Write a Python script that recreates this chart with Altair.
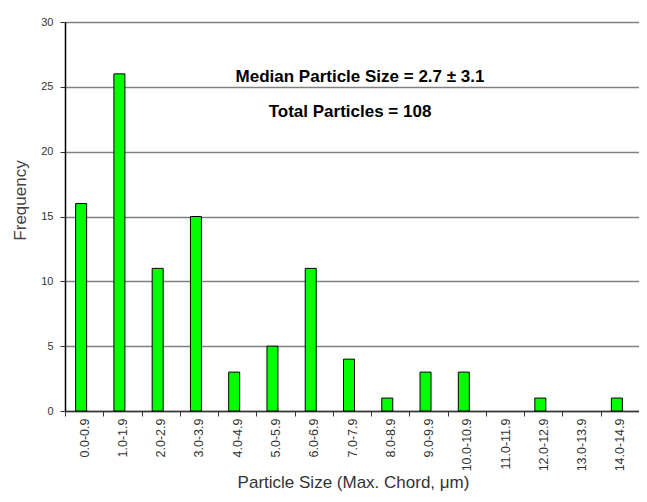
import altair as alt
import pandas as pd

categories = ["0.0-0.9", "1.0-1.9", "2.0-2.9", "3.0-3.9", "4.0-4.9", "5.0-5.9",
              "6.0-6.9", "7.0-7.9", "8.0-8.9", "9.0-9.9", "10.0-10.9", "11.0-11.9",
              "12.0-12.9", "13.0-13.9", "14.0-14.9"]
frequency = [16, 26, 11, 15, 3, 5, 11, 4, 1, 3, 3, 0, 1, 0, 1]
annotation_median = "Median Particle Size = 2.7 \u00b1 3.1"
annotation_total = "Total Particles = 108"
y_ticks = [0, 5, 10, 15, 20, 25, 30]

df = pd.DataFrame({"size": categories, "freq": frequency})

FONT = "Liberation Sans"

x = alt.X("size:N", sort=categories, title="Particle Size (Max. Chord, \u03bcm)",
          scale=alt.Scale(domain=categories, paddingInner=0, paddingOuter=0),
          axis=alt.Axis(labelAngle=-90, labelAlign="right", labelBaseline="middle",
                        labelFontSize=12.5, labelPadding=2, labelColor="#333333",
                        tickBand="extent", tickSize=5, tickColor="#333333",
                        domainColor="#333333", domainWidth=1.5,
                        titleFontSize=17, titleFontWeight="normal", titleColor="#333333",
                        titleBaseline="alphabetic", titleY=76, titleX=288,
                        grid=False))
y = alt.Y("freq:Q", title="Frequency",
          scale=alt.Scale(domain=[0, 30], nice=False),
          axis=alt.Axis(values=y_ticks, labelFontSize=11, labelPadding=7,
                        labelColor="#333333", tickSize=5, tickColor="#333333",
                        domainColor="#000000", domainWidth=1.5,
                        gridColor="#808080", gridWidth=1.5, grid=True,
                        titleFontSize=17, titleFontWeight="normal", titleColor="#444444",
                        titleAngle=-90, titleBaseline="alphabetic",
                        titleX=-40, titleY=178))

bars = alt.Chart(df).transform_filter("datum.freq > 0").mark_bar(
    size=11, color="#00ff00", stroke="#000000", strokeWidth=1, xOffset=-3
).encode(x=x, y=y)

ann1 = alt.Chart(pd.DataFrame({"t": [annotation_median]})).mark_text(
    font=FONT, fontSize=17, fontWeight="bold", color="#000000", align="center",
    baseline="middle").encode(text="t:N", x=alt.value(295), y=alt.value(55))
ann2 = alt.Chart(pd.DataFrame({"t": [annotation_total]})).mark_text(
    font=FONT, fontSize=17, fontWeight="bold", color="#000000", align="center",
    baseline="middle").encode(text="t:N", x=alt.value(285), y=alt.value(90))

chart = alt.layer(bars, ann1, ann2).properties(
    width=574, height=389,
    autosize=alt.AutoSizeParams(type="none"),
    padding={"left": 57, "top": 14, "right": 0, "bottom": 82},
).configure_view(stroke=None).configure(font=FONT)

chart.save("out.html", embed_options={"renderer": "svg", "actions": False})
